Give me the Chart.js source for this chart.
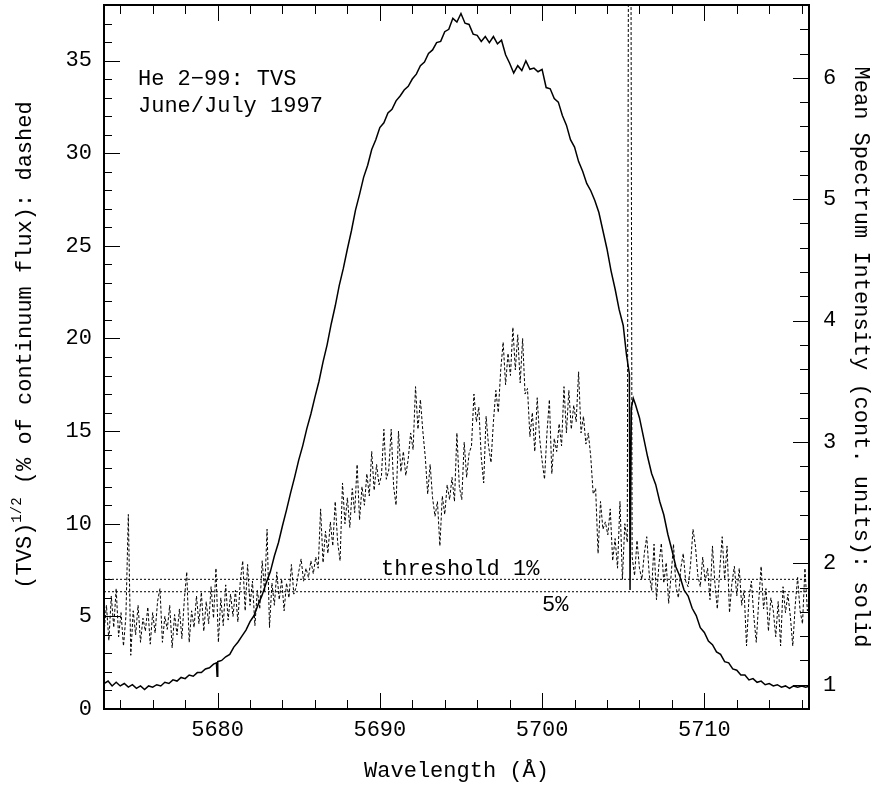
<!DOCTYPE html>
<html>
<head>
<meta charset="utf-8">
<script src="https://cdn.jsdelivr.net/npm/chart.js@4.4.1/dist/chart.umd.min.js"></script>
<style>
html,body{margin:0;padding:0;background:#fff;}
#wrap{width:876px;height:789px;}
</style>
</head>
<body>
<div id="wrap"><canvas id="c" width="876" height="789"></canvas></div>
<script>
// ---------- data ----------
const xRange = [5673.0, 5716.45];
const tvsRange = [0, 38];
const fluxRange = [0.8, 6.6];
const xTickStep = 10, xMinorStep = 2;
const tvsTickStep = 5, tvsMinorStep = 1;
const fluxTickStep = 1, fluxMinorStep = 0.2;

// Mean spectrum (solid, right axis)
const solidWl = [
5673.00,5673.25,5673.50,5673.75,5674.00,5674.25,5674.50,5674.75,5675.00,5675.25,
5675.50,5675.75,5676.00,5676.25,5676.50,5676.75,5677.00,5677.25,5677.50,5677.75,
5678.00,5678.25,5678.50,5678.75,5679.00,5679.25,5679.50,5679.75,5679.93,5679.97,
5680.01,5680.25,5680.50,5680.75,5681.00,5681.25,5681.50,5681.75,5682.00,5682.25,
5682.50,5682.75,5683.00,5683.25,5683.50,5683.75,5684.00,5684.25,5684.50,5684.75,
5685.00,5685.25,5685.50,5685.75,5686.00,5686.25,5686.50,5686.75,5687.00,5687.25,
5687.50,5687.75,5688.00,5688.25,5688.50,5688.75,5689.00,5689.25,5689.50,5689.75,
5690.00,5690.25,5690.50,5690.75,5691.00,5691.25,5691.50,5691.75,5692.00,5692.25,
5692.50,5692.75,5693.00,5693.25,5693.50,5693.75,5694.00,5694.25,5694.50,5694.75,
5695.00,5695.25,5695.50,5695.75,5696.00,5696.25,5696.50,5696.75,5697.00,5697.25,
5697.50,5697.75,5698.00,5698.25,5698.50,5698.75,5699.00,5699.25,5699.50,5699.75,
5700.00,5700.25,5700.50,5700.75,5701.00,5701.25,5701.50,5701.75,5702.00,5702.25,
5702.50,5702.75,5703.00,5703.25,5703.50,5703.75,5704.00,5704.25,5704.50,5704.75,
5705.00,5705.20,5705.38,5705.42,5705.45,5705.50,5705.62,5705.75,5706.00,5706.25,
5706.50,5706.75,5707.00,5707.25,5707.50,5707.75,5708.00,5708.25,5708.50,5708.75,
5709.00,5709.25,5709.50,5709.75,5710.00,5710.25,5710.50,5710.75,5711.00,5711.25,
5711.50,5711.75,5712.00,5712.25,5712.50,5712.75,5713.00,5713.25,5713.50,5713.75,
5714.00,5714.25,5714.50,5714.75,5715.00,5715.25,5715.50,5715.75,5716.00,5716.25,
5716.50
];
const solidFlux = [
1.01,1.03,0.99,1.02,0.99,1.01,0.98,1.00,0.97,0.99,
0.96,0.99,0.98,1.00,0.99,1.02,1.01,1.04,1.03,1.06,
1.05,1.08,1.07,1.10,1.10,1.13,1.14,1.17,1.18,1.07,
1.19,1.20,1.23,1.25,1.31,1.35,1.40,1.45,1.52,1.57,
1.66,1.74,1.84,1.93,2.06,2.17,2.31,2.44,2.58,2.71,
2.85,2.97,3.11,3.23,3.37,3.50,3.66,3.80,3.97,4.12,
4.29,4.43,4.59,4.74,4.91,5.04,5.18,5.28,5.41,5.49,
5.59,5.63,5.71,5.74,5.81,5.85,5.90,5.93,5.99,6.03,
6.10,6.13,6.20,6.23,6.29,6.30,6.38,6.40,6.49,6.46,
6.53,6.45,6.44,6.36,6.35,6.30,6.34,6.29,6.34,6.28,
6.31,6.19,6.12,6.04,6.10,6.06,6.14,6.07,6.08,6.05,
6.07,5.92,5.91,5.83,5.80,5.69,5.61,5.49,5.43,5.31,
5.23,5.13,5.07,4.99,4.89,4.74,4.59,4.41,4.26,4.09,
3.96,3.72,3.56,1.78,1.78,3.28,3.36,3.31,3.20,3.04,
2.88,2.74,2.65,2.51,2.40,2.24,2.11,1.97,1.89,1.78,
1.73,1.63,1.57,1.47,1.43,1.36,1.33,1.27,1.25,1.19,
1.18,1.13,1.12,1.08,1.08,1.04,1.05,1.02,1.03,1.00,
1.01,0.99,1.00,0.98,0.99,0.97,0.99,0.98,0.99,0.98,
0.99
];

// TVS^(1/2) (dashed, left axis), sampled every 0.15 A from 5673.00
const tvsStart = 5673.0, tvsStep = 0.15;
const tvsValues = [
4.1,5.6,3.7,6.1,4.4,6.5,3.9,5.2,3.4,5.0,
10.5,2.9,5.3,4.0,5.6,3.6,4.9,4.2,5.5,3.5,
5.2,4.1,5.8,6.5,3.6,5.0,4.3,5.6,3.3,5.1,
4.0,5.4,3.8,5.9,7.4,3.6,5.3,4.4,6.1,4.6,
6.3,4.2,5.8,4.6,6.6,4.9,7.6,3.6,6.0,4.5,
6.7,4.8,6.2,5.0,6.4,4.7,6.9,8.0,5.3,7.8,
5.6,6.9,4.5,6.4,5.4,8.0,6.3,9.7,4.4,6.8,
5.6,7.4,5.9,7.0,5.3,6.8,6.0,7.8,6.2,6.6,
7.4,8.1,6.9,7.6,7.1,8.0,7.3,8.2,7.6,10.8,
7.9,9.6,8.4,10.1,8.8,11.2,9.0,8.0,12.2,10.0,
11.4,9.8,11.9,10.6,13.2,10.2,12.0,11.0,12.7,11.5,
13.9,11.8,13.2,12.1,12.6,15.1,12.4,12.9,15.1,12.0,
11.0,15.0,12.8,13.9,12.6,13.5,14.9,14.0,17.4,15.1,
16.7,15.0,13.6,11.6,13.2,11.4,10.4,11.2,8.8,11.5,
10.5,12.1,11.3,12.5,11.2,14.9,12.0,11.3,14.4,12.5,
13.8,14.2,17.0,15.5,16.3,13.6,12.2,15.8,14.2,13.3,
15.5,17.2,16.0,18.3,19.8,17.5,19.2,18.0,20.6,18.3,
20.2,17.6,20.0,17.0,17.3,14.7,16.0,13.9,16.8,14.6,
13.4,12.4,14.9,16.7,12.7,14.6,13.9,15.4,14.2,17.4,
14.9,17.2,15.1,16.4,15.5,18.2,14.9,15.8,14.3,14.9,
13.6,11.6,11.9,8.4,11.2,9.7,10.1,9.4,10.8,8.0,
9.2,7.6,11.2,7.0,10.0,9.0,75.0,8.2,7.2,9.1,
7.6,7.0,8.4,9.3,7.3,6.4,8.9,5.9,7.8,8.95,
6.8,7.9,5.7,7.2,8.9,6.6,6.0,7.6,8.4,6.9,
6.6,7.8,9.7,8.8,7.2,6.6,8.2,6.9,7.6,5.9,
8.8,6.8,5.4,7.5,9.3,7.0,8.8,5.2,6.8,7.7,
6.1,7.6,5.6,6.4,3.4,6.0,6.9,5.0,3.6,5.8,
7.7,5.4,6.5,4.2,6.0,5.3,3.9,5.8,3.4,6.6,
5.2,6.2,5.0,3.4,5.6,7.1,5.3,4.6,7.6,5.3,
5.7
];
const tvsWl = tvsValues.map((_, i) => +(tvsStart + i * tvsStep).toFixed(2));

const thresholdLevels = [7.0, 6.33];
const thresholdLabels = ['threshold 1%', '5%'];
const plotTitleLines = ['He 2\u221299: TVS', 'June/July 1997'];
const xTitle = 'Wavelength (\u00C5)';
const leftTitle = ['(TVS)', '1/2', ' (% of continuum flux): dashed'];
const rightTitle = 'Mean Spectrum Intensity (cont. units): solid';

// ---------- chart ----------
const FONT = '"Liberation Mono", "DejaVu Sans Mono", monospace';
const FS = 22;

const zip = (xs, ys) => xs.map((x, i) => ({x: x, y: ys[i]}));

const decor = {
  id: 'decor',
  afterDraw(chart) {
    const ctx = chart.ctx, a = chart.chartArea;
    const xs = chart.scales.x, ys = chart.scales.y, y2 = chart.scales.y2;
    ctx.save();
    ctx.strokeStyle = '#000';
    ctx.fillStyle = '#000';
    ctx.lineWidth = 1;
    const seg = (x1, y1, x2, y2_) => { ctx.beginPath(); ctx.moveTo(x1, y1); ctx.lineTo(x2, y2_); ctx.stroke(); };
    // x ticks (bottom & top)
    const n0 = Math.ceil(xs.min / xMinorStep), n1 = Math.floor(xs.max / xMinorStep);
    for (let n = n0; n <= n1; n++) {
      const v = n * xMinorStep;
      const px = Math.round(xs.getPixelForValue(v)) + 0.5;
      const major = Math.abs(v / xTickStep - Math.round(v / xTickStep)) < 1e-6;
      const L = major ? 16 : 9;
      seg(px, a.bottom, px, a.bottom - L);
      seg(px, a.top, px, a.top + L);
    }
    // left ticks
    const m0 = Math.ceil(ys.min / tvsMinorStep), m1 = Math.floor(ys.max / tvsMinorStep);
    for (let n = m0; n <= m1; n++) {
      const v = n * tvsMinorStep;
      const py = Math.round(ys.getPixelForValue(v)) + 0.5;
      const major = Math.abs(v / tvsTickStep - Math.round(v / tvsTickStep)) < 1e-6;
      seg(a.left, py, a.left + (major ? 16 : 8), py);
    }
    // right ticks
    const k0 = Math.ceil(y2.min / fluxMinorStep - 1e-6), k1 = Math.floor(y2.max / fluxMinorStep + 1e-6);
    for (let n = k0; n <= k1; n++) {
      const v = n * fluxMinorStep;
      const py = Math.round(y2.getPixelForValue(v)) + 0.5;
      const major = Math.abs(v / fluxTickStep - Math.round(v / fluxTickStep)) < 1e-6;
      seg(a.right, py, a.right - (major ? 16 : 9), py);
    }
    // frame
    ctx.lineWidth = 2;
    ctx.strokeRect(a.left, a.top, a.right - a.left, a.bottom - a.top);

    // texts
    ctx.font = FS + 'px ' + FONT;
    ctx.textAlign = 'left';
    ctx.textBaseline = 'alphabetic';
    ctx.fillText(plotTitleLines[0], 138, 85);
    ctx.fillText(plotTitleLines[1], 138, 112);
    ctx.fillText(thresholdLabels[0], 381, 575);
    ctx.fillText(thresholdLabels[1], 542, 611);

    // x title
    ctx.textAlign = 'center';
    ctx.fillText(xTitle, (a.left + a.right) / 2, 777);

    // left title (rotated, with superscript)
    ctx.save();
    ctx.translate(31, (a.top + a.bottom) / 2 - 12);
    ctx.rotate(-Math.PI / 2);
    ctx.textAlign = 'left';
    const parts = [
      {t: leftTitle[0], f: FS + 'px ' + FONT, dy: 0},
      {t: leftTitle[1], f: '14px ' + FONT, dy: -10},
      {t: leftTitle[2], f: FS + 'px ' + FONT, dy: 0}
    ];
    let total = 0;
    parts.forEach(p => { ctx.font = p.f; p.w = ctx.measureText(p.t).width; total += p.w; });
    let cx = -total / 2;
    parts.forEach(p => { ctx.font = p.f; ctx.fillText(p.t, cx, p.dy); cx += p.w; });
    ctx.restore();

    // right title
    ctx.save();
    ctx.translate(855, (a.top + a.bottom) / 2);
    ctx.rotate(Math.PI / 2);
    ctx.font = FS + 'px ' + FONT;
    ctx.textAlign = 'center';
    ctx.fillText(rightTitle, 0, 0);
    ctx.restore();

    ctx.restore();
  }
};

const tickFont = {family: FONT, size: FS};

new Chart(document.getElementById('c'), {
  type: 'line',
  data: {
    datasets: [
      {
        label: 'Mean spectrum',
        data: zip(solidWl, solidFlux),
        yAxisID: 'y2',
        borderColor: '#000',
        borderWidth: 1.5,
        pointRadius: 0,
        tension: 0,
        clip: 0
      },
      {
        label: 'TVS',
        data: zip(tvsWl, tvsValues),
        yAxisID: 'y',
        borderColor: '#000',
        borderWidth: 1,
        borderDash: [3, 2],
        borderJoinStyle: 'bevel',
        pointRadius: 0,
        tension: 0,
        clip: 0
      },
      {
        label: 'threshold 1%',
        data: [{x: xRange[0], y: thresholdLevels[0]}, {x: xRange[1], y: thresholdLevels[0]}],
        yAxisID: 'y',
        borderColor: '#000',
        borderWidth: 1,
        borderDash: [2, 2],
        pointRadius: 0,
        clip: 0
      },
      {
        label: 'threshold 5%',
        data: [{x: xRange[0], y: thresholdLevels[1]}, {x: xRange[1], y: thresholdLevels[1]}],
        yAxisID: 'y',
        borderColor: '#000',
        borderWidth: 1,
        borderDash: [2, 2],
        pointRadius: 0,
        clip: 0
      }
    ]
  },
  options: {
    responsive: false,
    animation: false,
    devicePixelRatio: 1,
    layout: {padding: {top: 5, left: 0, right: 0, bottom: 0}},
    plugins: {legend: {display: false}, tooltip: {enabled: false}, title: {display: false}},
    scales: {
      x: {
        type: 'linear', position: 'bottom',
        min: xRange[0], max: xRange[1],
        grid: {display: false, drawTicks: false},
        border: {display: false},
        ticks: {stepSize: xTickStep, includeBounds: false, autoSkip: false, maxRotation: 0,
                padding: 8, color: '#000', font: tickFont, callback: v => String(Math.round(v))},
        afterFit: s => { s.height = 80; s.paddingLeft = 0; s.paddingRight = 0; s.paddingTop = 0; s.paddingBottom = 0; }
      },
      y: {
        type: 'linear', position: 'left',
        min: tvsRange[0], max: tvsRange[1],
        grid: {display: false, drawTicks: false},
        border: {display: false},
        ticks: {stepSize: tvsTickStep, includeBounds: false, autoSkip: false,
                padding: 12, color: '#000', font: tickFont, callback: v => String(Math.round(v))},
        afterFit: s => { s.width = 104; s.paddingTop = 0; s.paddingBottom = 0; s.paddingLeft = 0; s.paddingRight = 0; }
      },
      y2: {
        type: 'linear', position: 'right',
        min: fluxRange[0], max: fluxRange[1],
        grid: {display: false, drawTicks: false},
        border: {display: false},
        ticks: {stepSize: fluxTickStep, includeBounds: false, autoSkip: false,
                padding: 14, color: '#000', font: tickFont, callback: v => String(Math.round(v * 10) / 10)},
        afterFit: s => { s.width = 67; s.paddingTop = 0; s.paddingBottom = 0; s.paddingLeft = 0; s.paddingRight = 0; }
      }
    }
  },
  plugins: [decor]
});
</script>
</body>
</html>
